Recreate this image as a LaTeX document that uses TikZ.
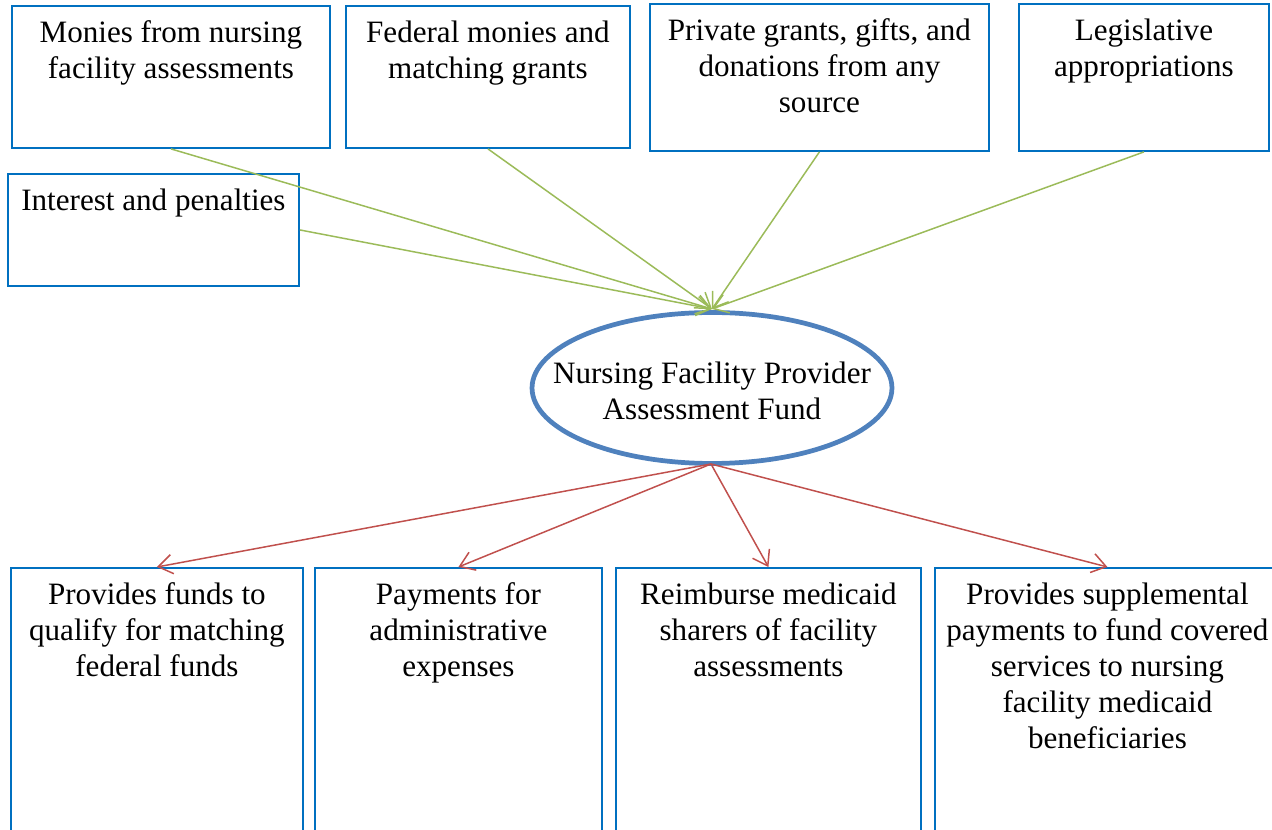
\documentclass[tikz,border=0pt]{standalone}
\usepackage{fontspec}
\setmainfont{Liberation Serif}
\usetikzlibrary{arrows.meta}

\definecolor{boxblue}{HTML}{0070C0}
\definecolor{fundblue}{HTML}{4F81BD}
\definecolor{ingreen}{HTML}{9BBB59}
\definecolor{outred}{HTML}{C0504D}

\tikzset{
  srcbox/.style={draw=boxblue, line width=1.1pt, anchor=north west, inner sep=0pt},
  boxtext/.style={anchor=north, align=center, yshift=-5.5pt, font=\fontsize{17.7}{20.5}\selectfont},
  inflow/.style={draw=ingreen, line width=0.85pt, -{Straight Barb[length=8pt,width=11pt]}},
  outflow/.style={draw=outred, line width=0.85pt, -{Straight Barb[length=8pt,width=11pt]}}
}

\begin{document}
\begin{tikzpicture}[x=0.02cm, y=-0.02cm]

        \useasboundingbox (0,0) rectangle (1272,830);

        % sources
        \node (nursing) [srcbox, minimum width=6.36cm, minimum height=2.84cm,
            label={[boxtext]north:{Monies from nursing\\facility assessments}}] at (11,5) {};
        \node (federal) [srcbox, minimum width=5.68cm, minimum height=2.84cm,
            label={[boxtext]north:{Federal monies and\\matching grants}}] at (345,5) {};
        \node (private) [srcbox, minimum width=6.78cm, minimum height=2.94cm,
            label={[boxtext]north:{Private grants, gifts, and\\donations from any\\source}}] at (649,3) {};
        \node (legis) [srcbox, minimum width=5.00cm, minimum height=2.94cm,
            label={[boxtext]north:{Legislative\\appropriations}}] at (1018,3) {};
        \node (interest) [srcbox, minimum width=5.82cm, minimum height=2.24cm,
            label={[boxtext]north:{Interest and penalties}}] at (7,173) {};

        % fund
        \node (fund) [align=center, font=\fontsize{17.7}{20.5}\selectfont] at (712,391)
            {Nursing Facility Provider\\Assessment Fund};
        \draw [fundblue, line width=2.7pt] (712,388) ellipse [x radius=3.6cm, y radius=1.51cm];
        \coordinate (fundtop) at (712,309);
        \coordinate (fundbot) at (711,464);

        % uses
        \node (match) [srcbox, minimum width=5.84cm, minimum height=5.6cm,
            label={[boxtext]north:{Provides funds to\\qualify for matching\\federal funds}}] at (10,567) {};
        \node (admin) [srcbox, minimum width=5.74cm, minimum height=5.6cm,
            label={[boxtext]north:{Payments for\\administrative\\expenses}}] at (314,567) {};
        \node (reimb) [srcbox, minimum width=6.10cm, minimum height=5.6cm,
            label={[boxtext]north:{Reimburse medicaid\\sharers of facility\\assessments}}] at (615,567) {};
        \node (suppl) [srcbox, minimum width=6.90cm, minimum height=5.6cm,
            label={[boxtext]north:{Provides supplemental\\payments to fund covered\\services to nursing\\facility medicaid\\beneficiaries}}] at (934,567) {};

        \draw [inflow] (nursing.south) -- (fundtop);
        \draw [inflow] (federal.south) -- (fundtop);
        \draw [inflow] (private.south) -- (fundtop);
        \draw [inflow] (legis.south) -- (fundtop);
        \draw [inflow] (interest.east) -- (fundtop);

        \draw [outflow] (fundbot) -- (match.north);
        \draw [outflow] (fundbot) -- (admin.north);
        \draw [outflow] (fundbot) -- (reimb.north);
        \draw [outflow] (fundbot) -- (suppl.north);

    \end{tikzpicture}
\end{document}
